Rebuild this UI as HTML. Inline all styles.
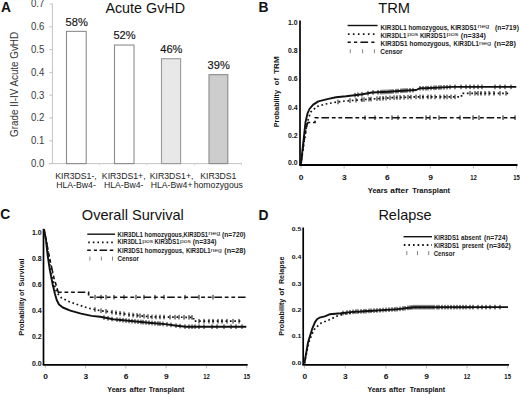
<!DOCTYPE html>
<html><head><meta charset="utf-8"><style>
html,body{margin:0;padding:0;background:#fff;}
svg{display:block;}
.a .p{stroke:#111;stroke-width:0.15px;}
.lg{stroke:none;}
text{font-family:"Liberation Sans",sans-serif;}
</style></head><body>
<svg width="520" height="395" viewBox="0 0 520 395">
<rect width="520" height="395" fill="#fff"/>
<g class="a">
<text x="1" y="11.6" font-size="13.8" text-anchor="start" font-weight="bold" fill="#111">A</text>
<text x="145.2" y="12.6" font-size="14.3" text-anchor="middle" font-weight="normal" fill="#111" textLength="79.6" lengthAdjust="spacingAndGlyphs">Acute GvHD</text>
<line x1="52.4" y1="3.5" x2="52.4" y2="163.6" stroke="#c4c4c4" stroke-width="1"/>
<line x1="49.4" y1="163.6" x2="52.4" y2="163.6" stroke="#c4c4c4" stroke-width="1"/>
<text x="44.3" y="166.9" font-size="10.3" text-anchor="end" font-weight="normal" fill="#3a3a3a" textLength="13.4" lengthAdjust="spacingAndGlyphs">0.0</text>
<line x1="49.4" y1="140.8" x2="52.4" y2="140.8" stroke="#c4c4c4" stroke-width="1"/>
<text x="44.3" y="144.1" font-size="10.3" text-anchor="end" font-weight="normal" fill="#3a3a3a" textLength="13.4" lengthAdjust="spacingAndGlyphs">0.1</text>
<line x1="49.4" y1="118" x2="52.4" y2="118" stroke="#c4c4c4" stroke-width="1"/>
<text x="44.3" y="121.3" font-size="10.3" text-anchor="end" font-weight="normal" fill="#3a3a3a" textLength="13.4" lengthAdjust="spacingAndGlyphs">0.2</text>
<line x1="49.4" y1="95.2" x2="52.4" y2="95.2" stroke="#c4c4c4" stroke-width="1"/>
<text x="44.3" y="98.5" font-size="10.3" text-anchor="end" font-weight="normal" fill="#3a3a3a" textLength="13.4" lengthAdjust="spacingAndGlyphs">0.3</text>
<line x1="49.4" y1="72.4" x2="52.4" y2="72.4" stroke="#c4c4c4" stroke-width="1"/>
<text x="44.3" y="75.7" font-size="10.3" text-anchor="end" font-weight="normal" fill="#3a3a3a" textLength="13.4" lengthAdjust="spacingAndGlyphs">0.4</text>
<line x1="49.4" y1="49.6" x2="52.4" y2="49.6" stroke="#c4c4c4" stroke-width="1"/>
<text x="44.3" y="52.9" font-size="10.3" text-anchor="end" font-weight="normal" fill="#3a3a3a" textLength="13.4" lengthAdjust="spacingAndGlyphs">0.5</text>
<line x1="49.4" y1="26.8" x2="52.4" y2="26.8" stroke="#c4c4c4" stroke-width="1"/>
<text x="44.3" y="30.1" font-size="10.3" text-anchor="end" font-weight="normal" fill="#3a3a3a" textLength="13.4" lengthAdjust="spacingAndGlyphs">0.6</text>
<line x1="49.4" y1="4" x2="52.4" y2="4" stroke="#c4c4c4" stroke-width="1"/>
<text x="44.3" y="7.3" font-size="10.3" text-anchor="end" font-weight="normal" fill="#3a3a3a" textLength="13.4" lengthAdjust="spacingAndGlyphs">0.7</text>
<line x1="49" y1="163.6" x2="242" y2="163.6" stroke="#c4c4c4" stroke-width="1"/>
<line x1="99.5" y1="163.6" x2="99.5" y2="165.4" stroke="#d4d4d4" stroke-width="1"/>
<line x1="147" y1="163.6" x2="147" y2="165.4" stroke="#d4d4d4" stroke-width="1"/>
<line x1="194.5" y1="163.6" x2="194.5" y2="165.4" stroke="#d4d4d4" stroke-width="1"/>
<line x1="241.5" y1="163.6" x2="241.5" y2="165.4" stroke="#d4d4d4" stroke-width="1"/>
<rect x="66.5" y="31.36" width="19.7" height="132.24" fill="#ffffff" stroke="#8c8c8c" stroke-width="1.1"/>
<text x="76.65" y="25.56" font-size="11.4" text-anchor="middle" font-weight="normal" fill="#111" textLength="22.2" lengthAdjust="spacingAndGlyphs" class="p">58%</text>
<rect x="114.5" y="45.04" width="19.5" height="118.56" fill="#ffffff" stroke="#8c8c8c" stroke-width="1.1"/>
<text x="124.55" y="39.24" font-size="11.4" text-anchor="middle" font-weight="normal" fill="#111" textLength="22.2" lengthAdjust="spacingAndGlyphs" class="p">52%</text>
<rect x="161.5" y="58.72" width="19.1" height="104.88" fill="#e8e8e8" stroke="#9a9a9a" stroke-width="1.1"/>
<text x="171.35" y="52.92" font-size="11.4" text-anchor="middle" font-weight="normal" fill="#111" textLength="22.2" lengthAdjust="spacingAndGlyphs" class="p">46%</text>
<rect x="209" y="74.68" width="18.8" height="88.92" fill="#cdcdcd" stroke="#8a8a8a" stroke-width="1.1"/>
<text x="218.7" y="68.88" font-size="11.4" text-anchor="middle" font-weight="normal" fill="#111" textLength="22.2" lengthAdjust="spacingAndGlyphs" class="p">39%</text>
<text x="76" y="179.3" font-size="8.7" text-anchor="middle" font-weight="normal" fill="#222">KIR3DS1-,</text>
<text x="76" y="188.2" font-size="8.7" text-anchor="middle" font-weight="normal" fill="#222">HLA-Bw4-</text>
<text x="123.7" y="179.3" font-size="8.7" text-anchor="middle" font-weight="normal" fill="#222">KIR3DS1+,</text>
<text x="123.7" y="188.2" font-size="8.7" text-anchor="middle" font-weight="normal" fill="#222">HLA-Bw4-</text>
<text x="171.6" y="179.3" font-size="8.7" text-anchor="middle" font-weight="normal" fill="#222">KIR3DS1+,</text>
<text x="171.6" y="188.2" font-size="8.7" text-anchor="middle" font-weight="normal" fill="#222">HLA-Bw4+</text>
<text x="218.3" y="179.3" font-size="8.7" text-anchor="middle" font-weight="normal" fill="#222">KIR3DS1</text>
<text x="218.3" y="188.2" font-size="8.7" text-anchor="middle" font-weight="normal" fill="#222">homozygous</text>
<text transform="translate(18.4,84.4) rotate(-90)" x="0" y="0" font-size="10" text-anchor="middle" font-weight="normal" fill="#333" textLength="105" lengthAdjust="spacingAndGlyphs">Grade II-IV Acute GvHD</text>
</g>
<text x="258.6" y="11.5" font-size="13.8" text-anchor="start" font-weight="bold" fill="#111">B</text>
<text x="394.1" y="12.7" font-size="14.6" text-anchor="middle" font-weight="normal" fill="#111" textLength="31.8" lengthAdjust="spacingAndGlyphs">TRM</text>
<line x1="300" y1="20.5" x2="300" y2="165" stroke="#000" stroke-width="1.7"/>
<line x1="299.2" y1="165" x2="517.5" y2="165" stroke="#000" stroke-width="1.8"/>
<line x1="301" y1="166" x2="301" y2="168.5" stroke="#999" stroke-width="0.7"/>
<text x="301.2" y="179.6" font-size="7" text-anchor="middle" font-weight="bold" fill="#111" textLength="4.7" lengthAdjust="spacingAndGlyphs">0</text>
<line x1="344.11" y1="166" x2="344.11" y2="168.5" stroke="#999" stroke-width="0.7"/>
<text x="344.31" y="179.6" font-size="7" text-anchor="middle" font-weight="bold" fill="#111" textLength="4.7" lengthAdjust="spacingAndGlyphs">3</text>
<line x1="387.22" y1="166" x2="387.22" y2="168.5" stroke="#999" stroke-width="0.7"/>
<text x="387.42" y="179.6" font-size="7" text-anchor="middle" font-weight="bold" fill="#111" textLength="4.7" lengthAdjust="spacingAndGlyphs">6</text>
<line x1="430.33" y1="166" x2="430.33" y2="168.5" stroke="#999" stroke-width="0.7"/>
<text x="430.53" y="179.6" font-size="7" text-anchor="middle" font-weight="bold" fill="#111" textLength="4.7" lengthAdjust="spacingAndGlyphs">9</text>
<line x1="473.44" y1="166" x2="473.44" y2="168.5" stroke="#999" stroke-width="0.7"/>
<text x="473.44" y="179.6" font-size="7" text-anchor="middle" font-weight="bold" fill="#111" textLength="6.6" lengthAdjust="spacingAndGlyphs">12</text>
<line x1="516.55" y1="166" x2="516.55" y2="168.5" stroke="#999" stroke-width="0.7"/>
<text x="516.55" y="179.6" font-size="7" text-anchor="middle" font-weight="bold" fill="#111" textLength="6.6" lengthAdjust="spacingAndGlyphs">15</text>
<text x="297.6" y="24.8" font-size="6.8" text-anchor="end" font-weight="bold" fill="#111" textLength="9.6" lengthAdjust="spacingAndGlyphs">1.0</text>
<text x="297.6" y="52.9" font-size="6.8" text-anchor="end" font-weight="bold" fill="#111" textLength="9.6" lengthAdjust="spacingAndGlyphs">0.8</text>
<text x="297.6" y="81.2" font-size="6.8" text-anchor="end" font-weight="bold" fill="#111" textLength="9.6" lengthAdjust="spacingAndGlyphs">0.6</text>
<text x="297.6" y="109.6" font-size="6.8" text-anchor="end" font-weight="bold" fill="#111" textLength="9.6" lengthAdjust="spacingAndGlyphs">0.4</text>
<text x="297.6" y="137.8" font-size="6.8" text-anchor="end" font-weight="bold" fill="#111" textLength="9.6" lengthAdjust="spacingAndGlyphs">0.2</text>
<text x="297.6" y="165.3" font-size="6.8" text-anchor="end" font-weight="bold" fill="#111" textLength="9.6" lengthAdjust="spacingAndGlyphs">0.0</text>
<text x="367.8" y="193.2" font-size="7.6" font-weight="bold" fill="#111" textLength="20" lengthAdjust="spacingAndGlyphs" class="lg">Years</text>
<text x="390.3" y="193.2" font-size="7.6" font-weight="bold" fill="#111" textLength="18.3" lengthAdjust="spacingAndGlyphs" class="lg">after</text>
<text x="412.3" y="193.2" font-size="7.6" font-weight="bold" fill="#111" textLength="37.8" lengthAdjust="spacingAndGlyphs" class="lg">Transplant</text>
<text transform="translate(279,127.2) rotate(-90)" x="0" y="0" font-size="8" font-weight="bold" fill="#111" textLength="37.2" lengthAdjust="spacingAndGlyphs">Probability</text>
<text transform="translate(279,85.2) rotate(-90)" x="0" y="0" font-size="8" font-weight="bold" fill="#111" textLength="7.2" lengthAdjust="spacingAndGlyphs">of</text>
<text transform="translate(279,73.8) rotate(-90)" x="0" y="0" font-size="8" font-weight="bold" fill="#111" textLength="17.4" lengthAdjust="spacingAndGlyphs">TRM</text>
<polyline points="301,164 303,145 305.6,121.6 307.5,113.5 309.4,109 313.2,104.6 318.3,101.4 328.4,98.9 336,97.3 346,96.3 362.5,94.2 372,92.5 388.5,91.8 402.3,90.7 416.2,90 419.6,88.3 425,88.3 452.4,86.9 516.3,86.9" fill="none" stroke="#111" stroke-width="1.9" stroke-linejoin="round"/>
<polyline points="301,164 303.5,146 306,129 308,120 310.7,112 317,106.5 325.8,104 336,102.2 344.8,101 372,99 392,97.7 416,96.9 461.5,96.9 461.5,93.3 509,93.3" fill="none" stroke="#111" stroke-width="1.7" stroke-dasharray="1.7 2.7"/>
<polyline points="301,164 303,148 305,135 307,125 308,122.5 315,122.5 315,117.7 515.4,117.7" fill="none" stroke="#111" stroke-width="1.6" stroke-dasharray="3.8 2.8 3.8 2.8 7.6 2.8"/>
<line x1="355" y1="92.85" x2="355" y2="97.45" stroke="#111" stroke-width="1.0"/>
<line x1="358" y1="92.47" x2="358" y2="97.07" stroke="#111" stroke-width="1.0"/>
<line x1="362" y1="91.96" x2="362" y2="96.56" stroke="#111" stroke-width="1.0"/>
<line x1="368" y1="90.92" x2="368" y2="95.52" stroke="#111" stroke-width="1.0"/>
<line x1="373" y1="90.16" x2="373" y2="94.76" stroke="#111" stroke-width="1.0"/>
<line x1="378" y1="89.95" x2="378" y2="94.55" stroke="#111" stroke-width="1.0"/>
<line x1="381" y1="89.82" x2="381" y2="94.42" stroke="#111" stroke-width="1.0"/>
<line x1="383" y1="89.73" x2="383" y2="94.33" stroke="#111" stroke-width="1.0"/>
<line x1="385" y1="89.65" x2="385" y2="94.25" stroke="#111" stroke-width="1.0"/>
<line x1="387" y1="89.56" x2="387" y2="94.16" stroke="#111" stroke-width="1.0"/>
<line x1="389" y1="89.46" x2="389" y2="94.06" stroke="#111" stroke-width="1.0"/>
<line x1="391" y1="89.3" x2="391" y2="93.9" stroke="#111" stroke-width="1.0"/>
<line x1="393" y1="89.14" x2="393" y2="93.74" stroke="#111" stroke-width="1.0"/>
<line x1="396" y1="88.9" x2="396" y2="93.5" stroke="#111" stroke-width="1.0"/>
<line x1="398" y1="88.74" x2="398" y2="93.34" stroke="#111" stroke-width="1.0"/>
<line x1="401" y1="88.5" x2="401" y2="93.1" stroke="#111" stroke-width="1.0"/>
<line x1="403" y1="88.36" x2="403" y2="92.96" stroke="#111" stroke-width="1.0"/>
<line x1="405" y1="88.26" x2="405" y2="92.86" stroke="#111" stroke-width="1.0"/>
<line x1="407" y1="88.16" x2="407" y2="92.76" stroke="#111" stroke-width="1.0"/>
<line x1="410" y1="88.01" x2="410" y2="92.61" stroke="#111" stroke-width="1.0"/>
<line x1="413" y1="87.86" x2="413" y2="92.46" stroke="#111" stroke-width="1.0"/>
<line x1="420" y1="86" x2="420" y2="90.6" stroke="#111" stroke-width="1.0"/>
<line x1="423" y1="86" x2="423" y2="90.6" stroke="#111" stroke-width="1.0"/>
<line x1="426" y1="85.95" x2="426" y2="90.55" stroke="#111" stroke-width="1.0"/>
<line x1="428" y1="85.85" x2="428" y2="90.45" stroke="#111" stroke-width="1.0"/>
<line x1="431" y1="85.69" x2="431" y2="90.29" stroke="#111" stroke-width="1.0"/>
<line x1="434" y1="85.54" x2="434" y2="90.14" stroke="#111" stroke-width="1.0"/>
<line x1="436" y1="85.44" x2="436" y2="90.04" stroke="#111" stroke-width="1.0"/>
<line x1="439" y1="85.28" x2="439" y2="89.88" stroke="#111" stroke-width="1.0"/>
<line x1="441" y1="85.18" x2="441" y2="89.78" stroke="#111" stroke-width="1.0"/>
<line x1="444" y1="85.03" x2="444" y2="89.63" stroke="#111" stroke-width="1.0"/>
<line x1="447" y1="84.88" x2="447" y2="89.48" stroke="#111" stroke-width="1.0"/>
<line x1="450" y1="84.72" x2="450" y2="89.32" stroke="#111" stroke-width="1.0"/>
<line x1="455" y1="84.6" x2="455" y2="89.2" stroke="#111" stroke-width="1.0"/>
<line x1="461" y1="84.6" x2="461" y2="89.2" stroke="#111" stroke-width="1.0"/>
<line x1="466" y1="84.6" x2="466" y2="89.2" stroke="#111" stroke-width="1.0"/>
<line x1="470" y1="84.6" x2="470" y2="89.2" stroke="#111" stroke-width="1.0"/>
<line x1="474" y1="84.6" x2="474" y2="89.2" stroke="#111" stroke-width="1.0"/>
<line x1="478" y1="84.6" x2="478" y2="89.2" stroke="#111" stroke-width="1.0"/>
<line x1="482" y1="84.6" x2="482" y2="89.2" stroke="#111" stroke-width="1.0"/>
<line x1="495" y1="84.6" x2="495" y2="89.2" stroke="#111" stroke-width="1.0"/>
<line x1="500" y1="84.6" x2="500" y2="89.2" stroke="#111" stroke-width="1.0"/>
<line x1="505" y1="84.6" x2="505" y2="89.2" stroke="#111" stroke-width="1.0"/>
<line x1="511" y1="84.6" x2="511" y2="89.2" stroke="#111" stroke-width="1.0"/>
<line x1="338" y1="99.63" x2="338" y2="104.23" stroke="#111" stroke-width="1.0"/>
<line x1="350" y1="98.32" x2="350" y2="102.92" stroke="#111" stroke-width="1.0"/>
<line x1="356" y1="97.88" x2="356" y2="102.48" stroke="#111" stroke-width="1.0"/>
<line x1="362" y1="97.44" x2="362" y2="102.04" stroke="#111" stroke-width="1.0"/>
<line x1="364" y1="97.29" x2="364" y2="101.89" stroke="#111" stroke-width="1.0"/>
<line x1="369" y1="96.92" x2="369" y2="101.52" stroke="#111" stroke-width="1.0"/>
<line x1="371" y1="96.77" x2="371" y2="101.37" stroke="#111" stroke-width="1.0"/>
<line x1="377" y1="96.38" x2="377" y2="100.97" stroke="#111" stroke-width="1.0"/>
<line x1="380" y1="96.18" x2="380" y2="100.78" stroke="#111" stroke-width="1.0"/>
<line x1="383" y1="95.98" x2="383" y2="100.58" stroke="#111" stroke-width="1.0"/>
<line x1="386" y1="95.79" x2="386" y2="100.39" stroke="#111" stroke-width="1.0"/>
<line x1="390" y1="95.53" x2="390" y2="100.13" stroke="#111" stroke-width="1.0"/>
<line x1="394" y1="95.33" x2="394" y2="99.93" stroke="#111" stroke-width="1.0"/>
<line x1="397" y1="95.23" x2="397" y2="99.83" stroke="#111" stroke-width="1.0"/>
<line x1="400" y1="95.13" x2="400" y2="99.73" stroke="#111" stroke-width="1.0"/>
<line x1="404" y1="95" x2="404" y2="99.6" stroke="#111" stroke-width="1.0"/>
<line x1="408" y1="94.87" x2="408" y2="99.47" stroke="#111" stroke-width="1.0"/>
<line x1="411" y1="94.77" x2="411" y2="99.37" stroke="#111" stroke-width="1.0"/>
<line x1="416" y1="94.6" x2="416" y2="99.2" stroke="#111" stroke-width="1.0"/>
<line x1="420" y1="94.6" x2="420" y2="99.2" stroke="#111" stroke-width="1.0"/>
<line x1="423" y1="94.6" x2="423" y2="99.2" stroke="#111" stroke-width="1.0"/>
<line x1="428" y1="94.6" x2="428" y2="99.2" stroke="#111" stroke-width="1.0"/>
<line x1="431" y1="94.6" x2="431" y2="99.2" stroke="#111" stroke-width="1.0"/>
<line x1="435" y1="94.6" x2="435" y2="99.2" stroke="#111" stroke-width="1.0"/>
<line x1="440" y1="94.6" x2="440" y2="99.2" stroke="#111" stroke-width="1.0"/>
<line x1="444" y1="94.6" x2="444" y2="99.2" stroke="#111" stroke-width="1.0"/>
<line x1="447" y1="94.6" x2="447" y2="99.2" stroke="#111" stroke-width="1.0"/>
<line x1="451" y1="94.6" x2="451" y2="99.2" stroke="#111" stroke-width="1.0"/>
<line x1="455" y1="94.6" x2="455" y2="99.2" stroke="#111" stroke-width="1.0"/>
<line x1="470" y1="91" x2="470" y2="95.6" stroke="#111" stroke-width="1.0"/>
<line x1="475" y1="91" x2="475" y2="95.6" stroke="#111" stroke-width="1.0"/>
<line x1="478" y1="91" x2="478" y2="95.6" stroke="#111" stroke-width="1.0"/>
<line x1="481" y1="91" x2="481" y2="95.6" stroke="#111" stroke-width="1.0"/>
<line x1="485" y1="91" x2="485" y2="95.6" stroke="#111" stroke-width="1.0"/>
<line x1="489" y1="91" x2="489" y2="95.6" stroke="#111" stroke-width="1.0"/>
<line x1="494" y1="91" x2="494" y2="95.6" stroke="#111" stroke-width="1.0"/>
<line x1="500" y1="91" x2="500" y2="95.6" stroke="#111" stroke-width="1.0"/>
<line x1="506" y1="91" x2="506" y2="95.6" stroke="#111" stroke-width="1.0"/>
<line x1="365" y1="115.4" x2="365" y2="120" stroke="#111" stroke-width="1.0"/>
<line x1="375" y1="115.4" x2="375" y2="120" stroke="#111" stroke-width="1.0"/>
<line x1="392" y1="115.4" x2="392" y2="120" stroke="#111" stroke-width="1.0"/>
<line x1="398" y1="115.4" x2="398" y2="120" stroke="#111" stroke-width="1.0"/>
<line x1="426" y1="115.4" x2="426" y2="120" stroke="#111" stroke-width="1.0"/>
<line x1="430" y1="115.4" x2="430" y2="120" stroke="#111" stroke-width="1.0"/>
<line x1="439" y1="115.4" x2="439" y2="120" stroke="#111" stroke-width="1.0"/>
<line x1="460" y1="115.4" x2="460" y2="120" stroke="#111" stroke-width="1.0"/>
<line x1="473" y1="115.4" x2="473" y2="120" stroke="#111" stroke-width="1.0"/>
<line x1="479" y1="115.4" x2="479" y2="120" stroke="#111" stroke-width="1.0"/>
<line x1="503" y1="115.4" x2="503" y2="120" stroke="#111" stroke-width="1.0"/>
<line x1="515" y1="115.4" x2="515" y2="120" stroke="#111" stroke-width="1.0"/>
<line x1="347.6" y1="25.5" x2="377.6" y2="25.5" stroke="#111" stroke-width="1.4"/>
<line x1="347.9" y1="34.1" x2="377.6" y2="34.1" stroke="#111" stroke-width="1.8" stroke-dasharray="1.6 3.4"/>
<path d="M347.6 42.3h3.2m3.2 0h3.2m3.2 0h7.7m3.2 0h3.2" stroke="#111" stroke-width="1.4" fill="none"/>
<line x1="350.3" y1="49.2" x2="350.3" y2="53.3" stroke="#666" stroke-width="0.8"/>
<line x1="362.6" y1="49.2" x2="362.6" y2="53.3" stroke="#666" stroke-width="0.8"/>
<line x1="374.4" y1="49.2" x2="374.4" y2="53.3" stroke="#666" stroke-width="0.8"/>
<text x="380.6" y="29.7" font-size="6.6" font-weight="bold" fill="#1a1a1a" textLength="96.5" lengthAdjust="spacingAndGlyphs" class="lg">KIR3DL1 homozygous, KIR3DS1</text>
<text x="477.5" y="28.3" font-size="6" font-weight="normal" fill="#222" textLength="11.8" lengthAdjust="spacingAndGlyphs">neg</text>
<text x="495" y="29.7" font-size="6.6" font-weight="bold" fill="#1a1a1a" textLength="23.9" lengthAdjust="spacingAndGlyphs" class="lg">(n=719)</text>
<text x="380.6" y="37.6" font-size="6.6" font-weight="bold" fill="#1a1a1a" textLength="25.8" lengthAdjust="spacingAndGlyphs" class="lg">KIR3DL1</text>
<text x="407.2" y="36.2" font-size="6" font-weight="normal" fill="#222" textLength="11" lengthAdjust="spacingAndGlyphs">pos</text>
<text x="419.9" y="37.6" font-size="6.6" font-weight="bold" fill="#1a1a1a" textLength="26.2" lengthAdjust="spacingAndGlyphs" class="lg">KIR3DS1</text>
<text x="446.6" y="36.2" font-size="6" font-weight="normal" fill="#222" textLength="11.9" lengthAdjust="spacingAndGlyphs">pos</text>
<text x="460.8" y="37.6" font-size="6.6" font-weight="bold" fill="#1a1a1a" textLength="25.1" lengthAdjust="spacingAndGlyphs" class="lg">(n=334)</text>
<text x="380.6" y="46.3" font-size="6.6" font-weight="bold" fill="#1a1a1a" textLength="70.2" lengthAdjust="spacingAndGlyphs" class="lg">KIR3DS1 homozygous,</text>
<text x="453.5" y="46.3" font-size="6.6" font-weight="bold" fill="#1a1a1a" textLength="25.3" lengthAdjust="spacingAndGlyphs" class="lg">KIR3DL1</text>
<text x="478.9" y="44.9" font-size="6" font-weight="normal" fill="#222" textLength="12.2" lengthAdjust="spacingAndGlyphs">neg</text>
<text x="494" y="46.3" font-size="6.6" font-weight="bold" fill="#1a1a1a" textLength="21.9" lengthAdjust="spacingAndGlyphs" class="lg">(n=28)</text>
<text x="380.3" y="54.4" font-size="6.6" font-weight="bold" fill="#1a1a1a" textLength="22.3" lengthAdjust="spacingAndGlyphs" class="lg">Censor</text>
<text x="0.2" y="219.2" font-size="13.8" text-anchor="start" font-weight="bold" fill="#111">C</text>
<text x="132.8" y="219.6" font-size="14.5" text-anchor="middle" font-weight="normal" fill="#111" textLength="102" lengthAdjust="spacingAndGlyphs">Overall Survival</text>
<line x1="43.5" y1="228.8" x2="43.5" y2="364.9" stroke="#000" stroke-width="1.7"/>
<line x1="42.7" y1="364.9" x2="247.7" y2="364.9" stroke="#000" stroke-width="1.8"/>
<line x1="45.3" y1="365.9" x2="45.3" y2="368.4" stroke="#999" stroke-width="0.7"/>
<text x="45.5" y="378.5" font-size="7" text-anchor="middle" font-weight="bold" fill="#111" textLength="4.7" lengthAdjust="spacingAndGlyphs">0</text>
<line x1="85.59" y1="365.9" x2="85.59" y2="368.4" stroke="#999" stroke-width="0.7"/>
<text x="85.79" y="378.5" font-size="7" text-anchor="middle" font-weight="bold" fill="#111" textLength="4.7" lengthAdjust="spacingAndGlyphs">3</text>
<line x1="125.88" y1="365.9" x2="125.88" y2="368.4" stroke="#999" stroke-width="0.7"/>
<text x="126.08" y="378.5" font-size="7" text-anchor="middle" font-weight="bold" fill="#111" textLength="4.7" lengthAdjust="spacingAndGlyphs">6</text>
<line x1="166.17" y1="365.9" x2="166.17" y2="368.4" stroke="#999" stroke-width="0.7"/>
<text x="166.37" y="378.5" font-size="7" text-anchor="middle" font-weight="bold" fill="#111" textLength="4.7" lengthAdjust="spacingAndGlyphs">9</text>
<line x1="206.46" y1="365.9" x2="206.46" y2="368.4" stroke="#999" stroke-width="0.7"/>
<text x="206.46" y="378.5" font-size="7" text-anchor="middle" font-weight="bold" fill="#111" textLength="6.6" lengthAdjust="spacingAndGlyphs">12</text>
<line x1="246.75" y1="365.9" x2="246.75" y2="368.4" stroke="#999" stroke-width="0.7"/>
<text x="246.75" y="378.5" font-size="7" text-anchor="middle" font-weight="bold" fill="#111" textLength="6.6" lengthAdjust="spacingAndGlyphs">15</text>
<text x="41.6" y="234.7" font-size="6.4" text-anchor="end" font-weight="bold" fill="#111" textLength="9.7" lengthAdjust="spacingAndGlyphs">1.0</text>
<text x="41.6" y="260.7" font-size="6.4" text-anchor="end" font-weight="bold" fill="#111" textLength="9.7" lengthAdjust="spacingAndGlyphs">0.8</text>
<text x="41.6" y="287.3" font-size="6.4" text-anchor="end" font-weight="bold" fill="#111" textLength="9.7" lengthAdjust="spacingAndGlyphs">0.6</text>
<text x="41.6" y="313.4" font-size="6.4" text-anchor="end" font-weight="bold" fill="#111" textLength="9.7" lengthAdjust="spacingAndGlyphs">0.4</text>
<text x="41.6" y="339.4" font-size="6.4" text-anchor="end" font-weight="bold" fill="#111" textLength="9.7" lengthAdjust="spacingAndGlyphs">0.2</text>
<text x="41.6" y="366.3" font-size="6.4" text-anchor="end" font-weight="bold" fill="#111" textLength="9.7" lengthAdjust="spacingAndGlyphs">0.0</text>
<text x="107.3" y="391.8" font-size="7.6" font-weight="bold" fill="#111" textLength="19" lengthAdjust="spacingAndGlyphs" class="lg">Years</text>
<text x="129.5" y="391.8" font-size="7.6" font-weight="bold" fill="#111" textLength="16.5" lengthAdjust="spacingAndGlyphs" class="lg">after</text>
<text x="148.7" y="391.8" font-size="7.6" font-weight="bold" fill="#111" textLength="35.6" lengthAdjust="spacingAndGlyphs" class="lg">Transplant</text>
<text transform="translate(23.8,335.8) rotate(-90)" x="0" y="0" font-size="8" font-weight="bold" fill="#111" textLength="38.4" lengthAdjust="spacingAndGlyphs">Probability</text>
<text transform="translate(23.8,296) rotate(-90)" x="0" y="0" font-size="8" font-weight="bold" fill="#111" textLength="6.6" lengthAdjust="spacingAndGlyphs">of</text>
<text transform="translate(23.8,286.4) rotate(-90)" x="0" y="0" font-size="8" font-weight="bold" fill="#111" textLength="27.8" lengthAdjust="spacingAndGlyphs">Survival</text>
<polyline points="44,229.4 46,240 47.6,255.2 49.9,270.4 52.9,285.6 55,294 56.7,300 59,304.5 62.8,307.5 70.4,310.6 81,313.6 91.6,315.9 100,316.8 113,319.2 128.5,320.8 151.5,323 165,324.1 175,325.5 185.8,326.7 246.3,326.7" fill="none" stroke="#111" stroke-width="1.9" stroke-linejoin="round"/>
<polyline points="44,229.4 46.5,242 48.4,255 49.9,265 52.9,280.2 56.7,292.3 61.3,297.7 68.9,301.5 79.5,305.3 90,308.5 100,310.6 113,312.3 128.5,314.6 151.5,316.9 193.6,317.4 193.6,321.2 240.3,321.2" fill="none" stroke="#111" stroke-width="1.7" stroke-dasharray="1.7 2.7"/>
<polyline points="44,229.4 47,245 50.6,262.8 54,278 57,288 58.2,292.3 88.6,292.3 88.6,297.2 246.3,297.2" fill="none" stroke="#111" stroke-width="1.6" stroke-dasharray="3.8 2.8 3.8 2.8 7.6 2.8"/>
<line x1="104" y1="315.24" x2="104" y2="319.84" stroke="#111" stroke-width="1.0"/>
<line x1="108" y1="315.98" x2="108" y2="320.58" stroke="#111" stroke-width="1.0"/>
<line x1="112" y1="316.72" x2="112" y2="321.32" stroke="#111" stroke-width="1.0"/>
<line x1="117" y1="317.31" x2="117" y2="321.91" stroke="#111" stroke-width="1.0"/>
<line x1="120" y1="317.62" x2="120" y2="322.22" stroke="#111" stroke-width="1.0"/>
<line x1="123" y1="317.93" x2="123" y2="322.53" stroke="#111" stroke-width="1.0"/>
<line x1="126" y1="318.24" x2="126" y2="322.84" stroke="#111" stroke-width="1.0"/>
<line x1="129" y1="318.55" x2="129" y2="323.15" stroke="#111" stroke-width="1.0"/>
<line x1="132" y1="318.83" x2="132" y2="323.43" stroke="#111" stroke-width="1.0"/>
<line x1="135" y1="319.12" x2="135" y2="323.72" stroke="#111" stroke-width="1.0"/>
<line x1="138" y1="319.41" x2="138" y2="324.01" stroke="#111" stroke-width="1.0"/>
<line x1="141" y1="319.7" x2="141" y2="324.3" stroke="#111" stroke-width="1.0"/>
<line x1="143" y1="319.89" x2="143" y2="324.49" stroke="#111" stroke-width="1.0"/>
<line x1="146" y1="320.17" x2="146" y2="324.77" stroke="#111" stroke-width="1.0"/>
<line x1="149" y1="320.46" x2="149" y2="325.06" stroke="#111" stroke-width="1.0"/>
<line x1="152" y1="320.74" x2="152" y2="325.34" stroke="#111" stroke-width="1.0"/>
<line x1="155" y1="320.99" x2="155" y2="325.59" stroke="#111" stroke-width="1.0"/>
<line x1="158" y1="321.23" x2="158" y2="325.83" stroke="#111" stroke-width="1.0"/>
<line x1="160" y1="321.39" x2="160" y2="325.99" stroke="#111" stroke-width="1.0"/>
<line x1="163" y1="321.64" x2="163" y2="326.24" stroke="#111" stroke-width="1.0"/>
<line x1="167" y1="322.08" x2="167" y2="326.68" stroke="#111" stroke-width="1.0"/>
<line x1="171" y1="322.64" x2="171" y2="327.24" stroke="#111" stroke-width="1.0"/>
<line x1="176" y1="323.31" x2="176" y2="327.91" stroke="#111" stroke-width="1.0"/>
<line x1="180" y1="323.76" x2="180" y2="328.36" stroke="#111" stroke-width="1.0"/>
<line x1="185" y1="324.31" x2="185" y2="328.91" stroke="#111" stroke-width="1.0"/>
<line x1="189" y1="324.4" x2="189" y2="329" stroke="#111" stroke-width="1.0"/>
<line x1="192" y1="324.4" x2="192" y2="329" stroke="#111" stroke-width="1.0"/>
<line x1="195" y1="324.4" x2="195" y2="329" stroke="#111" stroke-width="1.0"/>
<line x1="199" y1="324.4" x2="199" y2="329" stroke="#111" stroke-width="1.0"/>
<line x1="204" y1="324.4" x2="204" y2="329" stroke="#111" stroke-width="1.0"/>
<line x1="212" y1="324.4" x2="212" y2="329" stroke="#111" stroke-width="1.0"/>
<line x1="217" y1="324.4" x2="217" y2="329" stroke="#111" stroke-width="1.0"/>
<line x1="224" y1="324.4" x2="224" y2="329" stroke="#111" stroke-width="1.0"/>
<line x1="231" y1="324.4" x2="231" y2="329" stroke="#111" stroke-width="1.0"/>
<line x1="236" y1="324.4" x2="236" y2="329" stroke="#111" stroke-width="1.0"/>
<line x1="242" y1="324.4" x2="242" y2="329" stroke="#111" stroke-width="1.0"/>
<line x1="95" y1="307.25" x2="95" y2="311.85" stroke="#111" stroke-width="1.0"/>
<line x1="101" y1="308.43" x2="101" y2="313.03" stroke="#111" stroke-width="1.0"/>
<line x1="106" y1="309.08" x2="106" y2="313.68" stroke="#111" stroke-width="1.0"/>
<line x1="112" y1="309.87" x2="112" y2="314.47" stroke="#111" stroke-width="1.0"/>
<line x1="116" y1="310.45" x2="116" y2="315.05" stroke="#111" stroke-width="1.0"/>
<line x1="120" y1="311.04" x2="120" y2="315.64" stroke="#111" stroke-width="1.0"/>
<line x1="124" y1="311.63" x2="124" y2="316.23" stroke="#111" stroke-width="1.0"/>
<line x1="129" y1="312.35" x2="129" y2="316.95" stroke="#111" stroke-width="1.0"/>
<line x1="133" y1="312.75" x2="133" y2="317.35" stroke="#111" stroke-width="1.0"/>
<line x1="137" y1="313.15" x2="137" y2="317.75" stroke="#111" stroke-width="1.0"/>
<line x1="140" y1="313.45" x2="140" y2="318.05" stroke="#111" stroke-width="1.0"/>
<line x1="144" y1="313.85" x2="144" y2="318.45" stroke="#111" stroke-width="1.0"/>
<line x1="148" y1="314.25" x2="148" y2="318.85" stroke="#111" stroke-width="1.0"/>
<line x1="152" y1="314.61" x2="152" y2="319.21" stroke="#111" stroke-width="1.0"/>
<line x1="156" y1="314.65" x2="156" y2="319.25" stroke="#111" stroke-width="1.0"/>
<line x1="160" y1="314.7" x2="160" y2="319.3" stroke="#111" stroke-width="1.0"/>
<line x1="164" y1="314.75" x2="164" y2="319.35" stroke="#111" stroke-width="1.0"/>
<line x1="170" y1="314.82" x2="170" y2="319.42" stroke="#111" stroke-width="1.0"/>
<line x1="175" y1="314.88" x2="175" y2="319.48" stroke="#111" stroke-width="1.0"/>
<line x1="179" y1="314.93" x2="179" y2="319.53" stroke="#111" stroke-width="1.0"/>
<line x1="184" y1="314.99" x2="184" y2="319.59" stroke="#111" stroke-width="1.0"/>
<line x1="189" y1="315.05" x2="189" y2="319.65" stroke="#111" stroke-width="1.0"/>
<line x1="192" y1="315.08" x2="192" y2="319.68" stroke="#111" stroke-width="1.0"/>
<line x1="199" y1="318.9" x2="199" y2="323.5" stroke="#111" stroke-width="1.0"/>
<line x1="204" y1="318.9" x2="204" y2="323.5" stroke="#111" stroke-width="1.0"/>
<line x1="209" y1="318.9" x2="209" y2="323.5" stroke="#111" stroke-width="1.0"/>
<line x1="213" y1="318.9" x2="213" y2="323.5" stroke="#111" stroke-width="1.0"/>
<line x1="218" y1="318.9" x2="218" y2="323.5" stroke="#111" stroke-width="1.0"/>
<line x1="222" y1="318.9" x2="222" y2="323.5" stroke="#111" stroke-width="1.0"/>
<line x1="227" y1="318.9" x2="227" y2="323.5" stroke="#111" stroke-width="1.0"/>
<line x1="233" y1="318.9" x2="233" y2="323.5" stroke="#111" stroke-width="1.0"/>
<line x1="239" y1="318.9" x2="239" y2="323.5" stroke="#111" stroke-width="1.0"/>
<line x1="95" y1="294.9" x2="95" y2="299.5" stroke="#111" stroke-width="1.0"/>
<line x1="101" y1="294.9" x2="101" y2="299.5" stroke="#111" stroke-width="1.0"/>
<line x1="106" y1="294.9" x2="106" y2="299.5" stroke="#111" stroke-width="1.0"/>
<line x1="114" y1="294.9" x2="114" y2="299.5" stroke="#111" stroke-width="1.0"/>
<line x1="124" y1="294.9" x2="124" y2="299.5" stroke="#111" stroke-width="1.0"/>
<line x1="136" y1="294.9" x2="136" y2="299.5" stroke="#111" stroke-width="1.0"/>
<line x1="144" y1="294.9" x2="144" y2="299.5" stroke="#111" stroke-width="1.0"/>
<line x1="155" y1="294.9" x2="155" y2="299.5" stroke="#111" stroke-width="1.0"/>
<line x1="164" y1="294.9" x2="164" y2="299.5" stroke="#111" stroke-width="1.0"/>
<line x1="185" y1="294.9" x2="185" y2="299.5" stroke="#111" stroke-width="1.0"/>
<line x1="199" y1="294.9" x2="199" y2="299.5" stroke="#111" stroke-width="1.0"/>
<line x1="213" y1="294.9" x2="213" y2="299.5" stroke="#111" stroke-width="1.0"/>
<line x1="87.3" y1="234.2" x2="115" y2="234.2" stroke="#111" stroke-width="1.4"/>
<line x1="88.2" y1="242.3" x2="113.7" y2="242.3" stroke="#111" stroke-width="1.8" stroke-dasharray="1.6 3.0"/>
<path d="M87.2 250.3h3.6m3.1 0h3.1m2.6 0h7.5m2.7 0h3.5" stroke="#111" stroke-width="1.4" fill="none"/>
<line x1="89.9" y1="256.6" x2="89.9" y2="260.6" stroke="#666" stroke-width="0.8"/>
<line x1="101.4" y1="256.6" x2="101.4" y2="260.6" stroke="#666" stroke-width="0.8"/>
<line x1="112.5" y1="256.6" x2="112.5" y2="260.6" stroke="#666" stroke-width="0.8"/>
<text x="117.6" y="236.7" font-size="6.6" font-weight="bold" fill="#1a1a1a" textLength="66" lengthAdjust="spacingAndGlyphs" class="lg">KIR3DL1 homozygous,</text>
<text x="183.5" y="236.7" font-size="6.6" font-weight="bold" fill="#1a1a1a" textLength="24.5" lengthAdjust="spacingAndGlyphs" class="lg">KIR3DS1</text>
<text x="208.2" y="235.3" font-size="6" font-weight="normal" fill="#222" textLength="12.1" lengthAdjust="spacingAndGlyphs">neg</text>
<text x="222" y="236.7" font-size="6.6" font-weight="bold" fill="#1a1a1a" textLength="23.6" lengthAdjust="spacingAndGlyphs" class="lg">(n=720)</text>
<text x="117.6" y="244.1" font-size="6.6" font-weight="bold" fill="#1a1a1a" textLength="24" lengthAdjust="spacingAndGlyphs" class="lg">KIR3DL1</text>
<text x="142.2" y="242.7" font-size="6" font-weight="normal" fill="#222" textLength="11" lengthAdjust="spacingAndGlyphs">pos</text>
<text x="154.6" y="244.1" font-size="6.6" font-weight="bold" fill="#1a1a1a" textLength="24.9" lengthAdjust="spacingAndGlyphs" class="lg">KIR3DS1</text>
<text x="180.1" y="242.7" font-size="6" font-weight="normal" fill="#222" textLength="10.7" lengthAdjust="spacingAndGlyphs">pos</text>
<text x="192.8" y="244.1" font-size="6.6" font-weight="bold" fill="#1a1a1a" textLength="23.7" lengthAdjust="spacingAndGlyphs" class="lg">(n=334)</text>
<text x="117.6" y="253.2" font-size="6.6" font-weight="bold" fill="#1a1a1a" textLength="66.2" lengthAdjust="spacingAndGlyphs" class="lg">KIR3DS1 homozygous,</text>
<text x="185.9" y="253.2" font-size="6.6" font-weight="bold" fill="#1a1a1a" textLength="24.7" lengthAdjust="spacingAndGlyphs" class="lg">KIR3DL1</text>
<text x="210.5" y="251.8" font-size="6" font-weight="normal" fill="#222" textLength="11.3" lengthAdjust="spacingAndGlyphs">neg</text>
<text x="224.3" y="253.2" font-size="6.6" font-weight="bold" fill="#1a1a1a" textLength="21.4" lengthAdjust="spacingAndGlyphs" class="lg">(n=28)</text>
<text x="117.6" y="261.3" font-size="6.6" font-weight="bold" fill="#1a1a1a" textLength="21.4" lengthAdjust="spacingAndGlyphs" class="lg">Censor</text>
<text x="258.6" y="220" font-size="13.8" text-anchor="start" font-weight="bold" fill="#111">D</text>
<text x="405" y="219.5" font-size="14.4" text-anchor="middle" font-weight="normal" fill="#111" textLength="53.2" lengthAdjust="spacingAndGlyphs">Relapse</text>
<line x1="303.2" y1="227.5" x2="303.2" y2="364.9" stroke="#000" stroke-width="1.7"/>
<line x1="302.4" y1="364.9" x2="509" y2="364.9" stroke="#000" stroke-width="1.8"/>
<line x1="304.7" y1="365.9" x2="304.7" y2="368.4" stroke="#999" stroke-width="0.7"/>
<text x="304.9" y="378.6" font-size="7" text-anchor="middle" font-weight="bold" fill="#111" textLength="4.7" lengthAdjust="spacingAndGlyphs">0</text>
<line x1="345.29" y1="365.9" x2="345.29" y2="368.4" stroke="#999" stroke-width="0.7"/>
<text x="345.49" y="378.6" font-size="7" text-anchor="middle" font-weight="bold" fill="#111" textLength="4.7" lengthAdjust="spacingAndGlyphs">3</text>
<line x1="385.88" y1="365.9" x2="385.88" y2="368.4" stroke="#999" stroke-width="0.7"/>
<text x="386.08" y="378.6" font-size="7" text-anchor="middle" font-weight="bold" fill="#111" textLength="4.7" lengthAdjust="spacingAndGlyphs">6</text>
<line x1="426.47" y1="365.9" x2="426.47" y2="368.4" stroke="#999" stroke-width="0.7"/>
<text x="426.67" y="378.6" font-size="7" text-anchor="middle" font-weight="bold" fill="#111" textLength="4.7" lengthAdjust="spacingAndGlyphs">9</text>
<line x1="467.06" y1="365.9" x2="467.06" y2="368.4" stroke="#999" stroke-width="0.7"/>
<text x="467.06" y="378.6" font-size="7" text-anchor="middle" font-weight="bold" fill="#111" textLength="6.6" lengthAdjust="spacingAndGlyphs">12</text>
<line x1="507.65" y1="365.9" x2="507.65" y2="368.4" stroke="#999" stroke-width="0.7"/>
<text x="507.65" y="378.6" font-size="7" text-anchor="middle" font-weight="bold" fill="#111" textLength="6.6" lengthAdjust="spacingAndGlyphs">15</text>
<text x="301.3" y="231.4" font-size="6.2" text-anchor="end" font-weight="bold" fill="#111" textLength="9.6" lengthAdjust="spacingAndGlyphs">0.5</text>
<text x="301.3" y="258.7" font-size="6.2" text-anchor="end" font-weight="bold" fill="#111" textLength="9.6" lengthAdjust="spacingAndGlyphs">0.4</text>
<text x="301.3" y="285.5" font-size="6.2" text-anchor="end" font-weight="bold" fill="#111" textLength="9.6" lengthAdjust="spacingAndGlyphs">0.3</text>
<text x="301.3" y="312" font-size="6.2" text-anchor="end" font-weight="bold" fill="#111" textLength="9.6" lengthAdjust="spacingAndGlyphs">0.2</text>
<text x="301.3" y="338.3" font-size="6.2" text-anchor="end" font-weight="bold" fill="#111" textLength="9.6" lengthAdjust="spacingAndGlyphs">0.1</text>
<text x="301.3" y="365.4" font-size="6.2" text-anchor="end" font-weight="bold" fill="#111" textLength="9.6" lengthAdjust="spacingAndGlyphs">0.0</text>
<text x="367.4" y="391.9" font-size="7.6" font-weight="bold" fill="#111" textLength="18.7" lengthAdjust="spacingAndGlyphs" class="lg">Years</text>
<text x="389.1" y="391.9" font-size="7.6" font-weight="bold" fill="#111" textLength="16.2" lengthAdjust="spacingAndGlyphs" class="lg">after</text>
<text x="409.7" y="391.9" font-size="7.6" font-weight="bold" fill="#111" textLength="35.35" lengthAdjust="spacingAndGlyphs" class="lg">Transplant</text>
<text transform="translate(283.8,335.8) rotate(-90)" x="0" y="0" font-size="8" font-weight="bold" fill="#111" textLength="37.1" lengthAdjust="spacingAndGlyphs">Probability</text>
<text transform="translate(283.8,295.5) rotate(-90)" x="0" y="0" font-size="8" font-weight="bold" fill="#111" textLength="7.4" lengthAdjust="spacingAndGlyphs">of</text>
<text transform="translate(283.8,284.1) rotate(-90)" x="0" y="0" font-size="8" font-weight="bold" fill="#111" textLength="27.7" lengthAdjust="spacingAndGlyphs">Relapse</text>
<polyline points="304.4,363.5 308,342.5 312.4,328.3 315,322.1 317,319.2 319.5,317.7 324.8,316.3 330,314.2 340.7,313.3 355,311.6 360,311.5 398,309.1 413.5,307.2 508,307.1" fill="none" stroke="#111" stroke-width="1.9" stroke-linejoin="round"/>
<polyline points="304.4,363.5 308.8,342.5 312,334 315,328.3 321.2,323 330,319.5 337.2,316 346,313.6 360,311.9 398,309.4 413.5,307.5 500,307.4" fill="none" stroke="#111" stroke-width="1.7" stroke-dasharray="1.7 2.7"/>
<line x1="343" y1="310.73" x2="343" y2="315.33" stroke="#111" stroke-width="1.0"/>
<line x1="347" y1="310.25" x2="347" y2="314.85" stroke="#111" stroke-width="1.0"/>
<line x1="350" y1="309.89" x2="350" y2="314.49" stroke="#111" stroke-width="1.0"/>
<line x1="353" y1="309.54" x2="353" y2="314.14" stroke="#111" stroke-width="1.0"/>
<line x1="356" y1="309.28" x2="356" y2="313.88" stroke="#111" stroke-width="1.0"/>
<line x1="358" y1="309.24" x2="358" y2="313.84" stroke="#111" stroke-width="1.0"/>
<line x1="361" y1="309.14" x2="361" y2="313.74" stroke="#111" stroke-width="1.0"/>
<line x1="364" y1="308.95" x2="364" y2="313.55" stroke="#111" stroke-width="1.0"/>
<line x1="366" y1="308.82" x2="366" y2="313.42" stroke="#111" stroke-width="1.0"/>
<line x1="369" y1="308.63" x2="369" y2="313.23" stroke="#111" stroke-width="1.0"/>
<line x1="371" y1="308.51" x2="371" y2="313.11" stroke="#111" stroke-width="1.0"/>
<line x1="374" y1="308.32" x2="374" y2="312.92" stroke="#111" stroke-width="1.0"/>
<line x1="377" y1="308.13" x2="377" y2="312.73" stroke="#111" stroke-width="1.0"/>
<line x1="380" y1="307.94" x2="380" y2="312.54" stroke="#111" stroke-width="1.0"/>
<line x1="383" y1="307.75" x2="383" y2="312.35" stroke="#111" stroke-width="1.0"/>
<line x1="386" y1="307.56" x2="386" y2="312.16" stroke="#111" stroke-width="1.0"/>
<line x1="389" y1="307.37" x2="389" y2="311.97" stroke="#111" stroke-width="1.0"/>
<line x1="392" y1="307.18" x2="392" y2="311.78" stroke="#111" stroke-width="1.0"/>
<line x1="395" y1="306.99" x2="395" y2="311.59" stroke="#111" stroke-width="1.0"/>
<line x1="397" y1="306.86" x2="397" y2="311.46" stroke="#111" stroke-width="1.0"/>
<line x1="400" y1="306.55" x2="400" y2="311.15" stroke="#111" stroke-width="1.0"/>
<line x1="403" y1="306.19" x2="403" y2="310.79" stroke="#111" stroke-width="1.0"/>
<line x1="405" y1="305.94" x2="405" y2="310.54" stroke="#111" stroke-width="1.0"/>
<line x1="408" y1="305.57" x2="408" y2="310.17" stroke="#111" stroke-width="1.0"/>
<line x1="410" y1="305.33" x2="410" y2="309.93" stroke="#111" stroke-width="1.0"/>
<line x1="412" y1="305.08" x2="412" y2="309.68" stroke="#111" stroke-width="1.0"/>
<line x1="414" y1="304.9" x2="414" y2="309.5" stroke="#111" stroke-width="1.0"/>
<line x1="416" y1="304.9" x2="416" y2="309.5" stroke="#111" stroke-width="1.0"/>
<line x1="418" y1="304.9" x2="418" y2="309.5" stroke="#111" stroke-width="1.0"/>
<line x1="420" y1="304.89" x2="420" y2="309.49" stroke="#111" stroke-width="1.0"/>
<line x1="422" y1="304.89" x2="422" y2="309.49" stroke="#111" stroke-width="1.0"/>
<line x1="424" y1="304.89" x2="424" y2="309.49" stroke="#111" stroke-width="1.0"/>
<line x1="426" y1="304.89" x2="426" y2="309.49" stroke="#111" stroke-width="1.0"/>
<line x1="428" y1="304.88" x2="428" y2="309.48" stroke="#111" stroke-width="1.0"/>
<line x1="430" y1="304.88" x2="430" y2="309.48" stroke="#111" stroke-width="1.0"/>
<line x1="432" y1="304.88" x2="432" y2="309.48" stroke="#111" stroke-width="1.0"/>
<line x1="434" y1="304.88" x2="434" y2="309.48" stroke="#111" stroke-width="1.0"/>
<line x1="437" y1="304.88" x2="437" y2="309.48" stroke="#111" stroke-width="1.0"/>
<line x1="439" y1="304.87" x2="439" y2="309.47" stroke="#111" stroke-width="1.0"/>
<line x1="442" y1="304.87" x2="442" y2="309.47" stroke="#111" stroke-width="1.0"/>
<line x1="445" y1="304.87" x2="445" y2="309.47" stroke="#111" stroke-width="1.0"/>
<line x1="448" y1="304.86" x2="448" y2="309.46" stroke="#111" stroke-width="1.0"/>
<line x1="451" y1="304.86" x2="451" y2="309.46" stroke="#111" stroke-width="1.0"/>
<line x1="454" y1="304.86" x2="454" y2="309.46" stroke="#111" stroke-width="1.0"/>
<line x1="457" y1="304.85" x2="457" y2="309.45" stroke="#111" stroke-width="1.0"/>
<line x1="460" y1="304.85" x2="460" y2="309.45" stroke="#111" stroke-width="1.0"/>
<line x1="463" y1="304.85" x2="463" y2="309.45" stroke="#111" stroke-width="1.0"/>
<line x1="466" y1="304.84" x2="466" y2="309.44" stroke="#111" stroke-width="1.0"/>
<line x1="470" y1="304.84" x2="470" y2="309.44" stroke="#111" stroke-width="1.0"/>
<line x1="473" y1="304.84" x2="473" y2="309.44" stroke="#111" stroke-width="1.0"/>
<line x1="478" y1="304.83" x2="478" y2="309.43" stroke="#111" stroke-width="1.0"/>
<line x1="482" y1="304.83" x2="482" y2="309.43" stroke="#111" stroke-width="1.0"/>
<line x1="486" y1="304.82" x2="486" y2="309.42" stroke="#111" stroke-width="1.0"/>
<line x1="490" y1="304.82" x2="490" y2="309.42" stroke="#111" stroke-width="1.0"/>
<line x1="495" y1="304.81" x2="495" y2="309.41" stroke="#111" stroke-width="1.0"/>
<line x1="500" y1="304.81" x2="500" y2="309.41" stroke="#111" stroke-width="1.0"/>
<line x1="403.5" y1="236.7" x2="432" y2="236.7" stroke="#111" stroke-width="1.4"/>
<line x1="403.8" y1="245" x2="432" y2="245" stroke="#111" stroke-width="1.8" stroke-dasharray="1.6 3.0"/>
<line x1="406.8" y1="251" x2="406.8" y2="255.2" stroke="#666" stroke-width="0.8"/>
<line x1="417.5" y1="251" x2="417.5" y2="255.2" stroke="#666" stroke-width="0.8"/>
<line x1="428.7" y1="251" x2="428.7" y2="255.2" stroke="#666" stroke-width="0.8"/>
<text x="434" y="240.1" font-size="6.3" font-weight="bold" fill="#1a1a1a" textLength="25.2" lengthAdjust="spacingAndGlyphs" class="lg">KIR3DS1</text>
<text x="461" y="240.1" font-size="6.3" font-weight="bold" fill="#1a1a1a" textLength="20" lengthAdjust="spacingAndGlyphs" class="lg">absent</text>
<text x="484" y="240.1" font-size="6.3" font-weight="bold" fill="#1a1a1a" textLength="23.7" lengthAdjust="spacingAndGlyphs" class="lg">(n=724)</text>
<text x="434" y="248" font-size="6.3" font-weight="bold" fill="#1a1a1a" textLength="25.2" lengthAdjust="spacingAndGlyphs" class="lg">KIR3DS1</text>
<text x="461.9" y="248" font-size="6.3" font-weight="bold" fill="#1a1a1a" textLength="21.7" lengthAdjust="spacingAndGlyphs" class="lg">present</text>
<text x="486.6" y="248" font-size="6.3" font-weight="bold" fill="#1a1a1a" textLength="24.3" lengthAdjust="spacingAndGlyphs" class="lg">(n=362)</text>
<text x="433.7" y="255.8" font-size="6.3" font-weight="bold" fill="#1a1a1a" textLength="21.1" lengthAdjust="spacingAndGlyphs" class="lg">Censor</text>
</svg>
</body></html>
